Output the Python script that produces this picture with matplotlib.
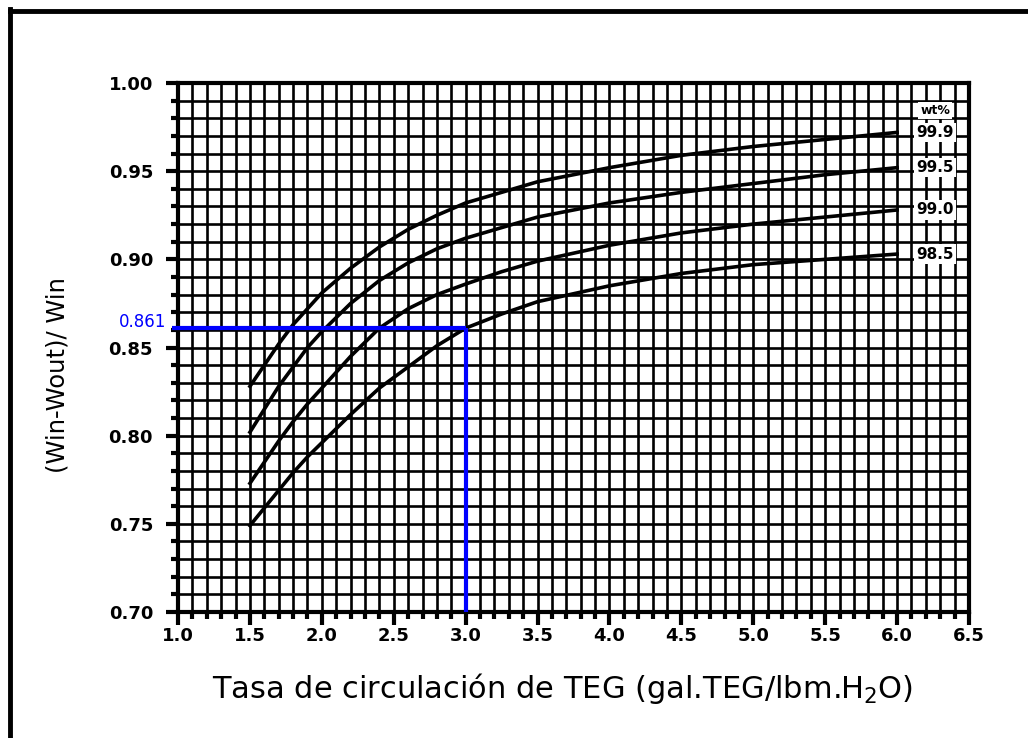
import matplotlib.pyplot as plt
from matplotlib.ticker import MultipleLocator, FormatStrFormatter
from matplotlib.lines import Line2D

# Tasa de circulacion de TEG (gal TEG / lbm H2O)
tasa = [1.5, 1.6, 1.7, 1.8, 1.9, 2.0, 2.2, 2.4, 2.6, 2.8, 3.0, 3.25, 3.5,
        4.0, 4.5, 5.0, 5.5, 6.0]

# Fraccion de agua removida para cada concentracion de TEG (wt%)
conc_labels = ["99.9", "99.5", "99.0", "98.5"]
remocion_999 = [0.828, 0.840, 0.852, 0.863, 0.872, 0.881, 0.895, 0.907, 0.917,
                0.925, 0.932, 0.938, 0.944, 0.952, 0.959, 0.964, 0.968, 0.972]
remocion_995 = [0.802, 0.815, 0.828, 0.839, 0.850, 0.859, 0.875, 0.888, 0.898,
                0.906, 0.912, 0.918, 0.924, 0.932, 0.938, 0.943, 0.948, 0.952]
remocion_990 = [0.773, 0.785, 0.797, 0.808, 0.818, 0.827, 0.845, 0.861, 0.872,
                0.880, 0.886, 0.893, 0.899, 0.908, 0.915, 0.920, 0.924, 0.928]
remocion_985 = [0.749, 0.759, 0.769, 0.779, 0.788, 0.796, 0.812, 0.827, 0.839,
                0.851, 0.861, 0.869, 0.876, 0.885, 0.892, 0.897, 0.900, 0.903]

# Punto de lectura
tasa_leida = 3.0
remocion_leida = 0.861

fig = plt.figure(figsize=(10.28, 7.38), dpi=100)
ax = fig.add_axes([0.1732, 0.1707, 0.7694, 0.7168])

ax.set_xlim(1.0, 6.5)
ax.set_ylim(0.70, 1.00)

# malla
ax.xaxis.set_major_locator(MultipleLocator(0.5))
ax.xaxis.set_minor_locator(MultipleLocator(0.1))
ax.yaxis.set_major_locator(MultipleLocator(0.05))
ax.yaxis.set_minor_locator(MultipleLocator(0.01))
ax.xaxis.set_major_formatter(FormatStrFormatter("%.1f"))
ax.yaxis.set_major_formatter(FormatStrFormatter("%.2f"))
ax.grid(which="both", color="black", linewidth=1.9)
ax.set_axisbelow(True)

for s in ax.spines.values():
    s.set_linewidth(3)

ax.tick_params(which="major", direction="out", length=9, width=3,
               labelsize=13)
ax.tick_params(axis="x", which="major", pad=2)
ax.tick_params(axis="y", which="major", pad=9)
ax.tick_params(which="minor", direction="out", length=5, width=3)
for lab in ax.get_xticklabels() + ax.get_yticklabels():
    lab.set_fontweight("bold")

series = [remocion_999, remocion_995, remocion_990, remocion_985]
for vals in series:
    ax.plot(tasa, vals, color="black", linewidth=2.6, zorder=3,
            solid_joinstyle="round")

# etiquetas de las curvas
ax.text(6.265, 0.9845, "wt%", fontsize=9, fontweight="bold", ha="center",
        va="center", zorder=5,
        bbox=dict(facecolor="white", edgecolor="none", pad=1.5))
for lab, vals in zip(conc_labels, series):
    ax.text(6.265, vals[-1], lab, fontsize=11, fontweight="bold",
            ha="center", va="center", zorder=5,
            bbox=dict(facecolor="white", edgecolor="none", pad=1.5))

# lectura en azul
ax.plot([0.96, tasa_leida], [remocion_leida, remocion_leida], color="blue",
        linewidth=3, clip_on=False, zorder=4, solid_capstyle="butt")
ax.plot([tasa_leida, tasa_leida], [0.70, remocion_leida], color="blue",
        linewidth=3, zorder=4, solid_capstyle="butt")
ax.text(0.92, 0.8645, "%.3f" % remocion_leida, color="blue", fontsize=12,
        ha="right", va="center", clip_on=False)

fig.text(563 / 1028, 1 - 688 / 738,
         "Tasa de circulación de TEG (gal.TEG/lbm.H$_2$O)",
         fontsize=22, ha="center", va="center")
fig.text(58 / 1028, 1 - 375 / 738, "(Win-Wout)/ Win", fontsize=17.5,
         rotation=90, ha="center", va="center")

# marco exterior
fig.add_artist(Line2D([10 / 1028, 1.0], [1 - 11 / 738, 1 - 11 / 738],
                      color="black", linewidth=3.5, transform=fig.transFigure))
fig.add_artist(Line2D([10 / 1028, 10 / 1028], [0.0, 1 - 9 / 738],
                      color="black", linewidth=3.5, transform=fig.transFigure))

fig.savefig("out.png", dpi=100)
